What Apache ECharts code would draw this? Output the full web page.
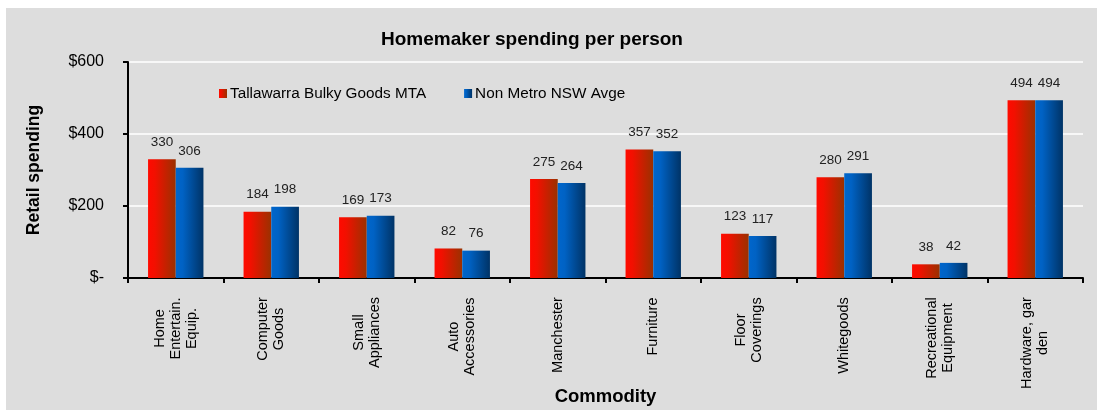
<!DOCTYPE html>
<html>
<head>
<meta charset="utf-8">
<script src="https://cdn.jsdelivr.net/npm/echarts@6/dist/echarts.min.js"></script>
<style>
  html, body { margin: 0; padding: 0; background: #ffffff; }
  #chart { width: 1097px; height: 410px; }
</style>
</head>
<body>
<div id="chart"></div>
<script>
// Commodity groups (line breaks as shown under the axis)
const categories = [
  'Home\nEntertain.\nEquip.',
  'Computer\nGoods',
  'Small\nAppliances',
  'Auto\nAccessories',
  'Manchester',
  'Furniture',
  'Floor\nCoverings',
  'Whitegoods',
  'Recreational\nEquipment',
  'Hardware, gar\nden'
];

// Spending per person ($)
const tallawarra = [330, 184, 169, 82, 275, 357, 123, 280, 38, 494];
const nonMetroNSW = [306, 198, 173, 76, 264, 352, 117, 291, 42, 494];

const seriesNames = ['Tallawarra Bulky Goods MTA', 'Non Metro NSW Avge'];
const yTicks = [0, 200, 400, 600];

const FONT = '"Liberation Sans", Arial, sans-serif';
const NARROW = '"Liberation Sans Narrow", "Arial Narrow", "Liberation Sans", sans-serif';
const LABEL_SIZE = 14.5;

// Each category label gets a box as wide as its longest line, so the
// lines are centred on each other while the block hangs from the axis.
const measureCtx = document.createElement('canvas').getContext('2d');
measureCtx.font = LABEL_SIZE + 'px ' + FONT;
const labelRich = {};
categories.forEach((c, i) => {
  const w = Math.max(...c.split('\n').map(s => measureCtx.measureText(s).width));
  labelRich['c' + i] = {
    width: Math.ceil(w),
    align: 'center',
    fontSize: LABEL_SIZE,
    fontFamily: FONT,
    color: '#000',
    lineHeight: 16
  };
});

function barGradient(from, mid, to) {
  return new echarts.graphic.LinearGradient(0, 0, 1, 0, [
    { offset: 0, color: from },
    { offset: 0.25, color: mid },
    { offset: 1, color: to }
  ]);
}

const valueLabel = {
  show: true,
  position: 'top',
  distance: 10,
  fontFamily: NARROW,
  fontSize: 13.5,
  color: '#222'
};

const chart = echarts.init(document.getElementById('chart'), null, { renderer: 'canvas' });

chart.setOption({
  backgroundColor: '#ffffff',
  animation: false,
  textStyle: { fontFamily: FONT },
  graphic: [{
    type: 'rect',
    z: -100,
    silent: true,
    shape: { x: 6, y: 8, width: 1091, height: 402 },
    style: { fill: '#dddddd' }
  }],
  title: {
    text: 'Homemaker spending per person',
    left: 381,
    top: 30,
    padding: 0,
    textStyle: { fontFamily: FONT, fontWeight: 'bold', fontSize: 19, color: '#000' }
  },
  legend: {
    left: 219,
    top: 86,
    padding: 0,
    icon: 'rect',
    itemWidth: 8,
    itemHeight: 9,
    itemGap: 38,
    data: seriesNames,
    textStyle: { fontFamily: FONT, fontSize: 15.3, color: '#000', padding: [0, 0, 0, -2] }
  },
  grid: {
    left: 128, right: 14, top: 62, bottom: 132,
    containLabel: false,
    outerBoundsMode: 'none'
  },
  xAxis: {
    type: 'category',
    data: categories,
    name: 'Commodity',
    nameLocation: 'middle',
    nameGap: 109,
    nameMoveOverlap: false,
    nameTextStyle: { fontFamily: FONT, fontWeight: 'bold', fontSize: 18.5, color: '#000' },
    axisLine: { lineStyle: { color: '#000', width: 2 } },
    axisTick: { show: true, length: 5, lineStyle: { color: '#000', width: 2 } },
    axisLabel: {
      rotate: 90,
      margin: 19,
      interval: 0,
      formatter: (value, idx) => value.split('\n').map(s => '{c' + idx + '|' + s + '}').join('\n'),
      rich: labelRich
    },
    splitLine: { show: false }
  },
  yAxis: {
    type: 'value',
    min: 0,
    max: 600,
    interval: 200,
    name: 'Retail spending',
    nameLocation: 'middle',
    nameRotate: 90,
    nameGap: 85,
    nameMoveOverlap: false,
    nameTextStyle: { fontFamily: FONT, fontWeight: 'bold', fontSize: 17.5, color: '#000' },
    axisLine: { show: true, lineStyle: { color: '#000', width: 2 } },
    axisTick: { show: true, length: 5, lineStyle: { color: '#000', width: 2 } },
    axisLabel: {
      margin: 24,
      fontFamily: FONT,
      fontSize: 16,
      color: '#000',
      formatter: v => (yTicks.includes(v) ? (v === 0 ? '$-' : '$' + v) : '')
    },
    splitLine: { show: true, lineStyle: { color: '#ffffff', width: 1.5 } }
  },
  series: [
    {
      name: seriesNames[0],
      type: 'bar',
      data: tallawarra,
      barGap: '0%',
      barCategoryGap: '42%',
      itemStyle: { color: barGradient('#ff0a00', '#f21000', '#9a3100') },
      label: valueLabel
    },
    {
      name: seriesNames[1],
      type: 'bar',
      data: nonMetroNSW,
      barGap: '0%',
      barCategoryGap: '42%',
      itemStyle: { color: barGradient('#0066cc', '#0062c4', '#003366') },
      label: valueLabel
    }
  ]
});
</script>
</body>
</html>
